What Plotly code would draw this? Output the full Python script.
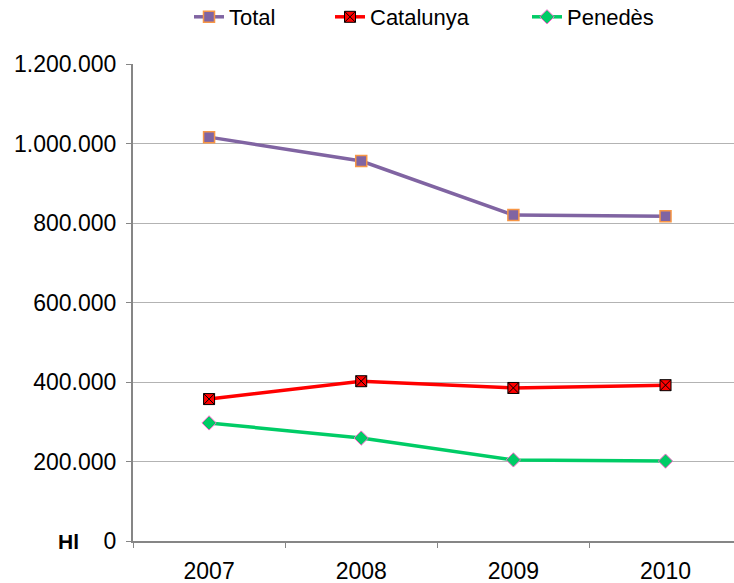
import plotly.graph_objects as go

years = ["2007", "2008", "2009", "2010"]
total = [1016000, 956000, 820000, 817000]
catalunya = [357000, 402000, 385000, 392000]
penedes = [297000, 259000, 204000, 201000]
y_ticks = [0, 200000, 400000, 600000, 800000, 1000000, 1200000]

FONT = "Liberation Sans, Arial, sans-serif"
AX = "#868686"
FS = 23

fig = go.Figure()
fig.add_trace(go.Scatter(
    x=years, y=total, name="Total", mode="lines+markers", legend="legend",
    line=dict(color="#8064A2", width=3.5),
    marker=dict(symbol="square", size=11, color="#8064A2",
                line=dict(color="#F79646", width=1.5)),
))
fig.add_trace(go.Scatter(
    x=years, y=catalunya, name="Catalunya", mode="lines+markers", legend="legend2",
    line=dict(color="#FF0000", width=3.5),
    marker=dict(symbol="square-x", size=11, color="#FF0000",
                line=dict(color="#000000", width=1)),
))
fig.add_trace(go.Scatter(
    x=years, y=penedes, name="Penedès", mode="lines+markers", legend="legend3",
    line=dict(color="#00CC66", width=3.5),
    marker=dict(symbol="diamond", size=11, color="#00CC66",
                line=dict(color="#FF66CC", width=1)),
))

fig.add_annotation(
    text="<b>Hl</b>", x=(68 - 133) / 601, y=0, xref="x domain", yref="y",
    xanchor="center", yanchor="middle", showarrow=False,
    font=dict(family=FONT, size=21, color="#000000"),
)

def leg(xpx):
    return dict(orientation="h", x=xpx / 734, xanchor="left", xref="container",
                y=1 + 68 / 477, yanchor="top", yref="paper",
                font=dict(family=FONT, size=22, color="#000000"),
                itemwidth=30, bgcolor="rgba(0,0,0,0)", borderwidth=0)

fig.update_layout(
    width=734, height=583,
    margin=dict(l=133, r=0, t=64, b=42, autoexpand=False),
    paper_bgcolor="white", plot_bgcolor="white",
    separators=",.",
    font=dict(family=FONT, size=FS, color="#000000"),
    showlegend=True,
    legend=leg(189),
    legend2=leg(330),
    legend3=leg(527),
    xaxis=dict(type="category", range=[-0.5, 3.45], automargin=False,
               showgrid=False, showline=True, linecolor=AX, linewidth=2,
               ticks="outside", tickson="boundaries", ticklen=5,
               tickcolor=AX, tickwidth=1, zeroline=False,
               ticklabelstandoff=8,
               tickfont=dict(family=FONT, size=FS)),
    yaxis=dict(range=[0, 1200000], tickvals=y_ticks, automargin=False,
               tickformat=",d", showgrid=True, gridcolor="#B3B3B3", gridwidth=1,
               showline=True, linecolor=AX, linewidth=2,
               ticks="outside", ticklen=5, tickcolor=AX, tickwidth=1,
               zeroline=False, ticklabelstandoff=5,
               tickfont=dict(family=FONT, size=FS)),
)

fig.write_html("out.html", config={"displayModeBar": False},
               post_script="document.body.style.margin='0';document.body.style.overflow='hidden';")
